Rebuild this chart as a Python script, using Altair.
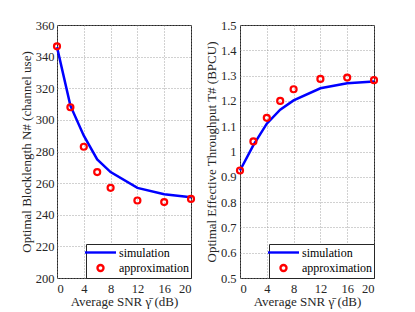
import altair as alt
import pandas as pd

snr = [0, 2, 4, 6, 8, 12, 16, 20]
block_sim = [346, 309, 290, 275, 267, 257, 253, 251]
block_apx = [346.5, 308, 283, 267, 257, 249, 248, 250]
thr_sim = [0.925, 1.025, 1.11, 1.165, 1.202, 1.25, 1.27, 1.277]
thr_apx = [0.925, 1.04, 1.133, 1.2, 1.246, 1.287, 1.292, 1.282]
series = ["simulation", "approximation"]

FONT = "Liberation Serif"
TXT = "#262626"


def make_df(sim, apx):
    rows = []
    for x, s, a in zip(snr, sim, apx):
        rows.append({"snr": x, "val": s, "series": series[0]})
        rows.append({"snr": x, "val": a, "series": series[1]})
    return pd.DataFrame(rows)


def panel(df, ytitle, ydom, ystep, yfmt, ylabpad):
    xenc = alt.X("snr:Q", scale=alt.Scale(domain=[0, 20], nice=False),
                 axis=alt.Axis(values=[0, 4, 8, 12, 16, 20], title="Average SNR γ̄ (dB)"))
    yvals = []
    v = ydom[0]
    while v <= ydom[1] + 1e-9:
        yvals.append(round(v, 3))
        v += ystep
    yenc = alt.Y("val:Q", scale=alt.Scale(domain=ydom, nice=False, zero=False),
                 axis=alt.Axis(values=yvals, format=yfmt, title=ytitle, labelPadding=ylabpad))
    leg = alt.Legend(
        title=None, orient="bottom-right", offset=0,
        strokeColor=TXT, fillColor="white", padding=2,
        labelFont=FONT, labelFontSize=12, labelColor="#000",
        symbolStrokeWidth=2.4, rowPadding=1, labelOffset=12, symbolOffset=6)
    color = alt.Color("series:N", scale=alt.Scale(domain=series, range=["#0000ff", "#ff0000"]),
                      legend=leg)
    shape = alt.Shape("series:N", scale=alt.Scale(domain=series, range=["M-3.1,0H3.1", "circle"]),
                      legend=leg)
    size = alt.Size("series:N", scale=alt.Scale(domain=series, range=[100, 36]), legend=leg)
    base = alt.Chart(df).encode(x=xenc, y=yenc)
    line = base.transform_filter(alt.datum.series == series[0]).mark_line(
        strokeWidth=2.5).encode(color=color)
    pts = base.transform_filter(alt.datum.series == series[1]).mark_point(
        filled=False, strokeWidth=2.2, opacity=1).encode(color=color, shape=shape, size=size)
    return alt.layer(line, pts).properties(width=134, height=253)


left = panel(make_df(block_sim, block_apx), "Optimal Blocklength  N# (channel use)", [200, 360], 20, "d", 3)
right = panel(make_df(thr_sim, thr_apx), "Optimal Effective Throughput  T# (BPCU)", [0.5, 1.5], 0.1, ".1~f", 4)

chart = alt.hconcat(left, right, spacing=5).resolve_scale(
    color="independent", shape="independent", size="independent"
).configure_view(stroke=TXT, strokeWidth=1).configure_axis(
    labelFont=FONT, labelFontSize=12.5, labelColor=TXT,
    titleFont=FONT, titleFontSize=13, titleFontWeight="normal", titleColor=TXT,
    domain=False, ticks=False,
    grid=True, gridColor="#8c8c8c", gridDash=[1, 2], gridWidth=0.8, gridOpacity=1,
).configure_axisY(titlePadding=2).configure_axisX(titlePadding=1, labelPadding=4).properties(
    padding={"left": 11, "top": 10, "right": 5, "bottom": 2},
    background="white")

chart.save("out.html", embed_options={"renderer": "svg", "actions": False})
